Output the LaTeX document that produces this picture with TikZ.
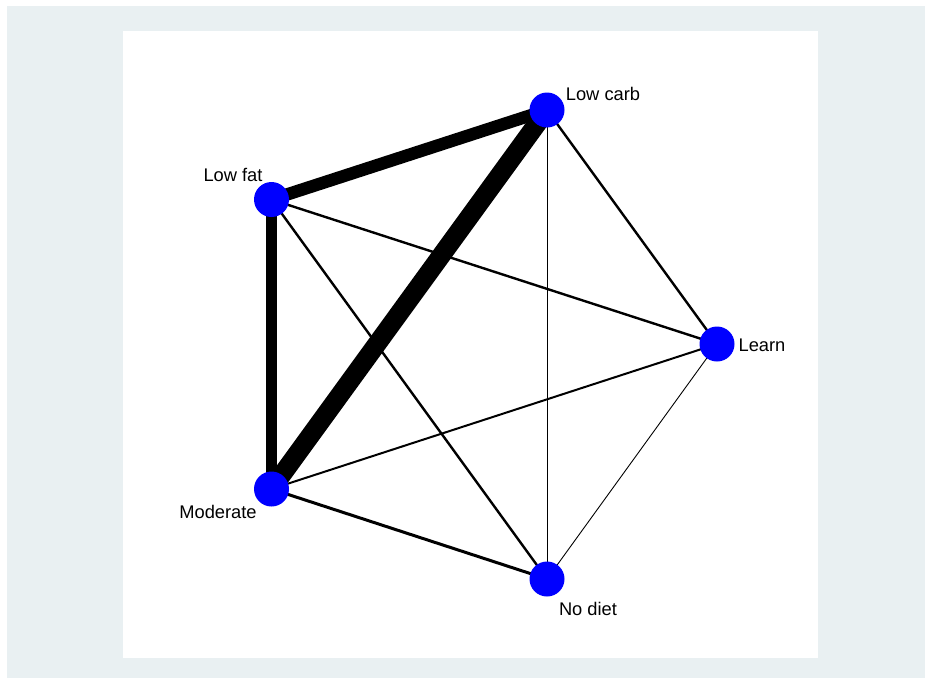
\documentclass[tikz,border=0pt]{standalone}
\usepackage{fontspec}
\setmainfont{Liberation Sans}
\definecolor{outerbg}{RGB}{233,240,242}
\definecolor{nodeblue}{RGB}{0,0,255}
\begin{document}
\begin{tikzpicture}[x=1pt,y=-1pt,
  dot/.style={circle,fill=nodeblue,draw=none,minimum size=35pt,inner sep=0pt},
  lbl/.style={inner sep=0pt,font=\fontsize{18.3pt}{21pt}\selectfont},
  edge/.style={draw=black,line cap=butt}]
\useasboundingbox (0,0) rectangle (925,678);
\fill[white] (0,0) rectangle (925,678);
\fill[outerbg] (7,6) rectangle (925,678);
\fill[white] (123,31) rectangle (818,658);
% node positions
\coordinate (pLC) at (547,110);
\coordinate (pLF) at (271.5,199.5);
\coordinate (pLE) at (717,344);
\coordinate (pMO) at (271.5,489);
\coordinate (pND) at (547,579);
% edges
\draw[edge,line width=19pt] (pLC) -- (pMO);
\draw[edge,line width=12.5pt] (pLC) -- (pLF);
\draw[edge,line width=10.5pt] (pLF) -- (pMO);
\draw[edge,line width=1pt] (pLC) -- (pND);
\draw[edge,line width=2.4pt] (pLC) -- (pLE);
\draw[edge,line width=2.4pt] (pLF) -- (pLE);
\draw[edge,line width=2.4pt] (pLF) -- (pND);
\draw[edge,line width=2pt] (pMO) -- (pLE);
\draw[edge,line width=3pt] (pMO) -- (pND);
\draw[edge,line width=0.9pt] (pLE) -- (pND);
% nodes
\node[dot] (LC) at (pLC) {};
\node[dot] (LF) at (pLF) {};
\node[dot] (LE) at (pLE) {};
\node[dot] (MO) at (pMO) {};
\node[dot] (ND) at (pND) {};
% labels
\node[lbl] (tLC) at (603,94) {Low carb};
\node[lbl] (tLF) at (233,175) {Low fat};
\node[lbl] (tLE) at (762,345) {Learn};
\node[lbl] (tMO) at (218,512) {Moderate};
\node[lbl] (tND) at (588,609) {No diet};
\end{tikzpicture}
\end{document}
